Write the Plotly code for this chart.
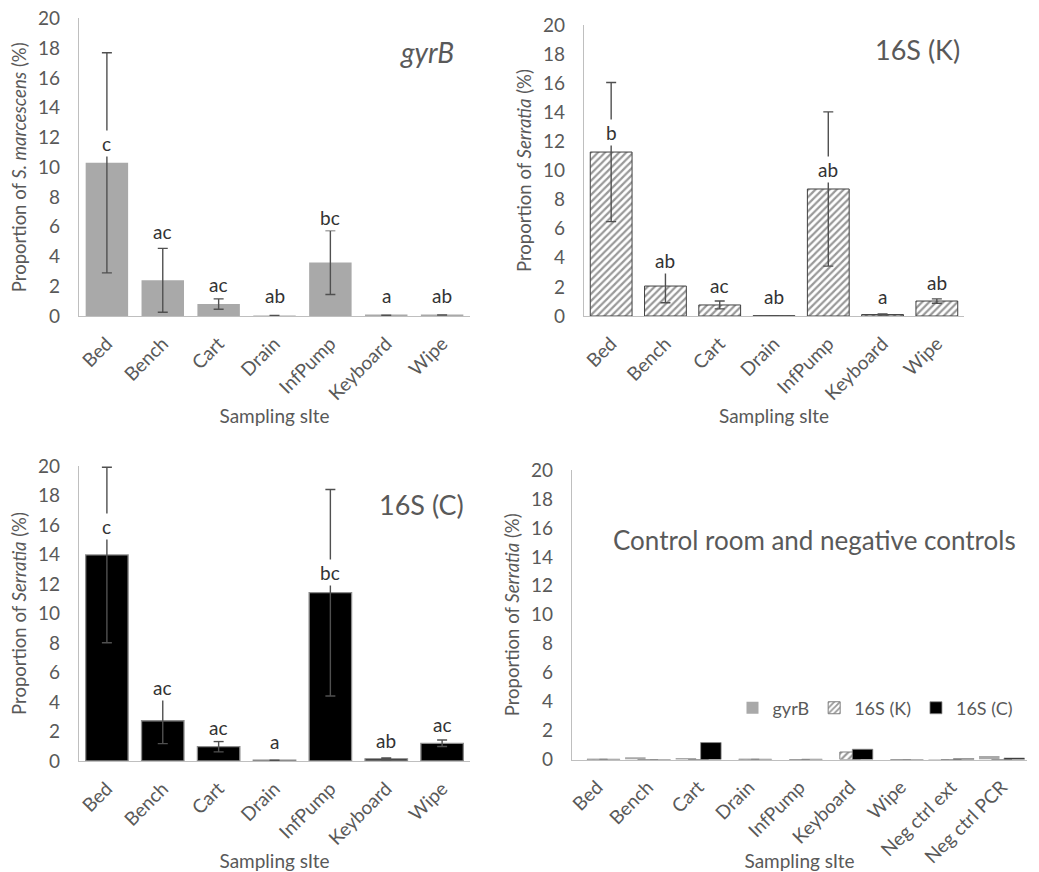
import plotly.graph_objects as go

# ---------------- data ----------------
sites = ["Bed", "Bench", "Cart", "Drain", "InfPump", "Keyboard", "Wipe"]
sites_ctrl = ["Bed", "Bench", "Cart", "Drain", "InfPump", "Keyboard", "Wipe",
              "Neg ctrl ext", "Neg ctrl PCR"]

gyrb_mean = [10.3, 2.4, 0.8, 0.03, 3.6, 0.05, 0.07]
gyrb_err = [7.4, 2.15, 0.35, 0.0, 2.15, 0.0, 0.0]
gyrb_letters = ["c", "ac", "ac", "ab", "bc", "a", "ab"]
gyrb_letter_y = [11.6, 5.7, 2.1, 1.35, 6.6, 1.35, 1.35]

k_mean = [11.27, 2.06, 0.76, 0.02, 8.73, 0.1, 1.03]
k_err = [4.78, 1.15, 0.27, 0.0, 5.3, 0.04, 0.15]
k_letters = ["b", "ab", "ac", "ab", "ab", "a", "ab"]
k_letter_y = [12.6, 3.8, 2.1, 1.33, 10.1, 1.33, 2.3]

c_mean = [13.97, 2.73, 0.97, 0.05, 11.41, 0.15, 1.2]
c_err = [5.95, 1.55, 0.35, 0.0, 7.0, 0.05, 0.22]
c_letters = ["c", "ac", "ac", "a", "bc", "ab", "ac"]
c_letter_y = [15.9, 5.0, 2.26, 1.31, 12.77, 1.42, 2.49]

ctrl_gyrb = [0.0, 0.16, 0.08, 0.0, 0.0, 0.0, 0.0, 0.02, 0.25]
ctrl_k = [0.02, 0.0, 0.0, 0.02, 0.0, 0.52, 0.0, 0.0, 0.0]
ctrl_c = [0.02, 0.0, 1.17, 0.02, 0.02, 0.71, 0.0, 0.06, 0.1]

# ---------------- styles ----------------
FONT = "Lato, 'Open Sans', sans-serif"
TXT = "#595959"
AX = "#bfbfbf"
ERR = "#505050"
GRAY = "#a9a9a9"
HATCH = dict(shape="/", fgcolor="#333333", bgcolor="white", size=5, solidity=0.45)

fig = go.Figure()

def errbar(arr):
    return dict(type="data", array=arr, visible=True, color=ERR, thickness=1.4, width=5)

fig.add_trace(go.Bar(x=sites, y=gyrb_mean, error_y=errbar(gyrb_err), width=0.76,
                     marker=dict(color=GRAY, line=dict(width=0)),
                     showlegend=False, xaxis="x", yaxis="y"))
fig.add_trace(go.Bar(x=sites, y=k_mean, error_y=errbar(k_err), width=0.77,
                     marker=dict(color="white", pattern=HATCH,
                                 line=dict(color="#404040", width=1)),
                     showlegend=False, xaxis="x2", yaxis="y2"))
fig.add_trace(go.Bar(x=sites, y=c_mean, error_y=errbar(c_err), width=0.76,
                     marker=dict(color="black", line=dict(color="#8c8c8c", width=1.3)),
                     showlegend=False, xaxis="x3", yaxis="y3"))

# control panel: overlapping grouped bars
bw = 0.405
shift = 0.247
fig.add_trace(go.Bar(x=sites_ctrl, y=ctrl_gyrb, name="gyrB", width=bw, offset=-shift - bw / 2,
                     marker=dict(color=GRAY, line=dict(width=0)),
                     xaxis="x4", yaxis="y4"))
fig.add_trace(go.Bar(x=sites_ctrl, y=ctrl_k, name="16S (K)", width=bw, offset=-bw / 2,
                     marker=dict(color="white", pattern=HATCH,
                                 line=dict(color="#7f7f7f", width=1)),
                     xaxis="x4", yaxis="y4"))
fig.add_trace(go.Bar(x=sites_ctrl, y=ctrl_c, name="16S (C)", width=bw, offset=shift - bw / 2,
                     marker=dict(color="black", line=dict(color="#8c8c8c", width=0.8)),
                     xaxis="x4", yaxis="y4"))

def yax(domain, anchor, title):
    return dict(domain=domain, anchor=anchor, range=[0, 20], dtick=2, showgrid=False,
                zeroline=False, showline=True, linecolor=AX, linewidth=1.3,
                ticks="", ticklabelstandoff=14, automargin=False,
                tickfont=dict(family=FONT, size=19, color=TXT),
                title=dict(text=title, font=dict(family=FONT, size=18.5, color=TXT), standoff=6))

def xax(domain, anchor):
    return dict(domain=domain, anchor=anchor, type="category", showgrid=False,
                zeroline=False, showline=True, linecolor=AX, linewidth=1.3,
                ticks="", tickangle=-45, ticklabelstandoff=8, automargin=False,
                tickfont=dict(family=FONT, size=19, color=TXT),
                title=dict(text="Sampling sIte", font=dict(family=FONT, size=19, color=TXT),
                           standoff=2))

fig.update_layout(
    width=1039, height=872,
    margin=dict(l=0, r=0, t=0, b=0),
    paper_bgcolor="white", plot_bgcolor="white",
    barmode="overlay",
    font=dict(family=FONT, color=TXT),
    xaxis=xax([0.0760, 0.4524], "y"),
    yaxis=yax([0.6376, 0.9788], "x", "Proportion of <i>S. marcescens</i> (%)"),
    xaxis2=xax([0.5621, 0.9278], "y2"),
    yaxis2=yax([0.6376, 0.9713], "x2", "Proportion of <i>Serratia</i> (%)"),
    xaxis3=xax([0.0760, 0.4524], "y3"),
    yaxis3=yax([0.1273, 0.4656], "x3", "Proportion of <i>Serratia</i> (%)"),
    xaxis4=xax([0.5505, 0.9885], "y4"),
    yaxis4=yax([0.1290, 0.4610], "x4", "Proportion of <i>Serratia</i> (%)"),
    legend=dict(orientation="h", x=0.705, y=0.188, xanchor="left", yanchor="middle",
                font=dict(family=FONT, size=18, color=TXT), bgcolor="rgba(0,0,0,0)",
                itemwidth=30, tracegroupgap=0),
)

ann = []
for letters, ly, xr, yr in [(gyrb_letters, gyrb_letter_y, "x", "y"),
                            (k_letters, k_letter_y, "x2", "y2"),
                            (c_letters, c_letter_y, "x3", "y3")]:
    for s, t, yy in zip(sites, letters, ly):
        ann.append(dict(x=s, y=yy, xref=xr, yref=yr, text=t, showarrow=False,
                        font=dict(family=FONT, size=19, color="#333333"),
                        bgcolor="white", borderpad=1))

titles = [("<i>gyrB</i>", 0.411, 0.940, 28), ("16S (K)", 0.8835, 0.9427, 27),
          ("16S (C)", 0.406, 0.422, 27), ("Control room and negative controls", 0.784, 0.381, 26)]
for t, x, y, sz in titles:
    ann.append(dict(x=x, y=y, xref="paper", yref="paper", text=t, showarrow=False,
                    xanchor="center", yanchor="middle",
                    font=dict(family=FONT, size=sz, color=TXT)))
fig.update_layout(annotations=ann)

fig.write_html("out.html")
